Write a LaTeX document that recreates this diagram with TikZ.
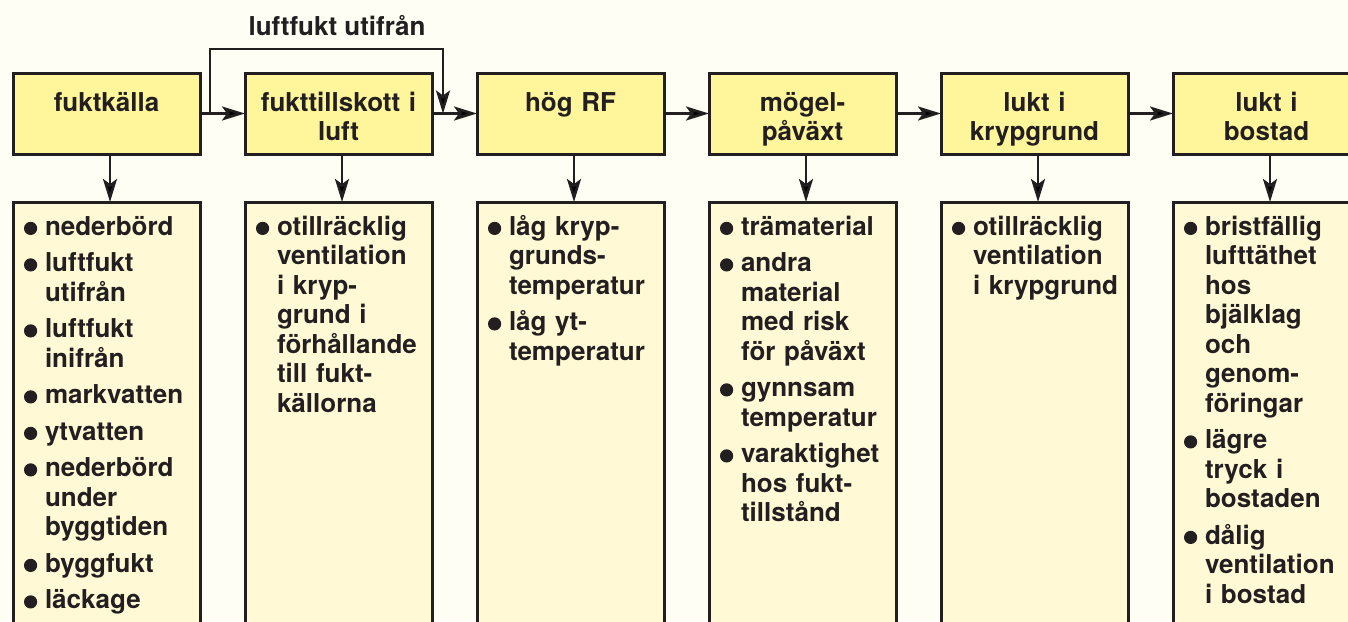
\documentclass[tikz,border=0pt]{standalone}
\usepackage{fontspec}
\setmainfont{TeX Gyre Heros}
\usetikzlibrary{arrows.meta,calc,positioning}
\definecolor{bgc}{HTML}{FEFEF4}
\definecolor{ink}{HTML}{231F20}
\definecolor{hdfill}{HTML}{FFF59B}
\definecolor{lsfill}{HTML}{FFF9D6}
\newcommand{\blt}{\tikz[baseline=0pt]\fill[ink] (0pt,6.6pt) circle (6.6pt);}
\newcommand{\itmf}{\hangindent=26pt\hangafter=1\noindent\hspace*{5pt}\makebox[21pt][l]{\blt}}
\newcommand{\itm}{\par\itmf}
\tikzset{pin/.style={-{Stealth[length=23pt,width=14pt,inset=5pt]}, line width=2.6pt, draw=ink},
  hd/.style={draw=ink, line width=3pt, fill=hdfill, text width=179pt, inner xsep=4pt, inner ysep=0pt,
    text height=38pt, text depth=43pt, align=center, outer sep=0pt},
  ls/.style={draw=ink, line width=3pt, fill=lsfill, text width=175pt, inner xsep=6pt, inner ysep=0pt,
    text height=33pt, text depth=520pt, align=left, outer sep=0pt,
    execute at begin node={\setlength{\parskip}{7pt}}}}

\begin{document}
\begin{tikzpicture}[x=1pt, y=-1pt, font=\bfseries\fontsize{26pt}{29.5pt}\selectfont, text=ink, node distance=45pt]
  \useasboundingbox (0,0) rectangle (1348,621);
  \clip (0,0) rectangle (1348,621);
  \fill[bgc] (0,0) rectangle (1348,621);
  % chain of causes
  \node[hd, anchor=north west] (fk) at (13,73) {fuktkälla};
  \node[hd, right=of fk] (ft) {fukttillskott i\\luft};
  \node[hd, right=of ft] (rf) {hög RF};
  \node[hd, right=of rf] (mp) {mögel-\\påväxt};
  \node[hd, right=of mp] (lk) {lukt i\\krypgrund};
  \node[hd, right=of lk] (lb) {lukt i\\bostad};
  % lists under each step
  \node[ls, below=48pt of fk] (fkl) {\itmf nederbörd
    \itm luftfukt\newline utifrån
    \itm luftfukt\newline inifrån
    \itm markvatten
    \itm ytvatten
    \itm nederbörd\newline under\newline byggtiden
    \itm byggfukt
    \itm läckage\par};
  \node[ls, below=48pt of ft] (ftl) {\itmf otillräcklig\newline ventilation\newline i kryp-\newline grund i\newline förhållande\newline till fukt-\newline källorna\par};
  \node[ls, below=48pt of rf] (rfl) {\itmf låg kryp-\newline grunds-\newline temperatur
    \itm låg yt-\newline temperatur\par};
  \node[ls, below=48pt of mp] (mpl) {\itmf trämaterial
    \itm andra\newline material\newline med risk\newline för påväxt
    \itm gynnsam\newline temperatur
    \itm varaktighet\newline hos fukt-\newline tillstånd\par};
  \node[ls, below=48pt of lk] (lkl) {\itmf otillräcklig\newline ventilation\newline i~krypgrund\par};
  \node[ls, below=48pt of lb] (lbl) {\itmf bristfällig\newline lufttäthet\newline hos\newline bjälklag\newline och\newline genom-\newline föringar
    \itm lägre\newline tryck i\newline bostaden
    \itm dålig\newline ventilation\newline i bostad\par};
  % arrows
  \foreach \a/\b in {fk/ft, ft/rf, rf/mp, mp/lk, lk/lb}
    \draw[pin] (\a.east) -- (\b.west);
  \foreach \a/\b in {fk/fkl, ft/ftl, rf/rfl, mp/mpl, lk/lkl, lb/lbl}
    \draw[pin] ([xshift=3.5pt]\a.south) -- ([xshift=3.5pt]\b.north);
  % bypass
  \coordinate (bpa) at ($(fk.east)+(10,0)$);
  \coordinate (bpb) at ($(ft.east)+(11,0)$);
  \draw[pin] (bpa) -- ++(0,-64.5) -| (bpb);
  \node[anchor=base] (lu) at (337,35) {luftfukt utifrån};
\end{tikzpicture}
\end{document}
